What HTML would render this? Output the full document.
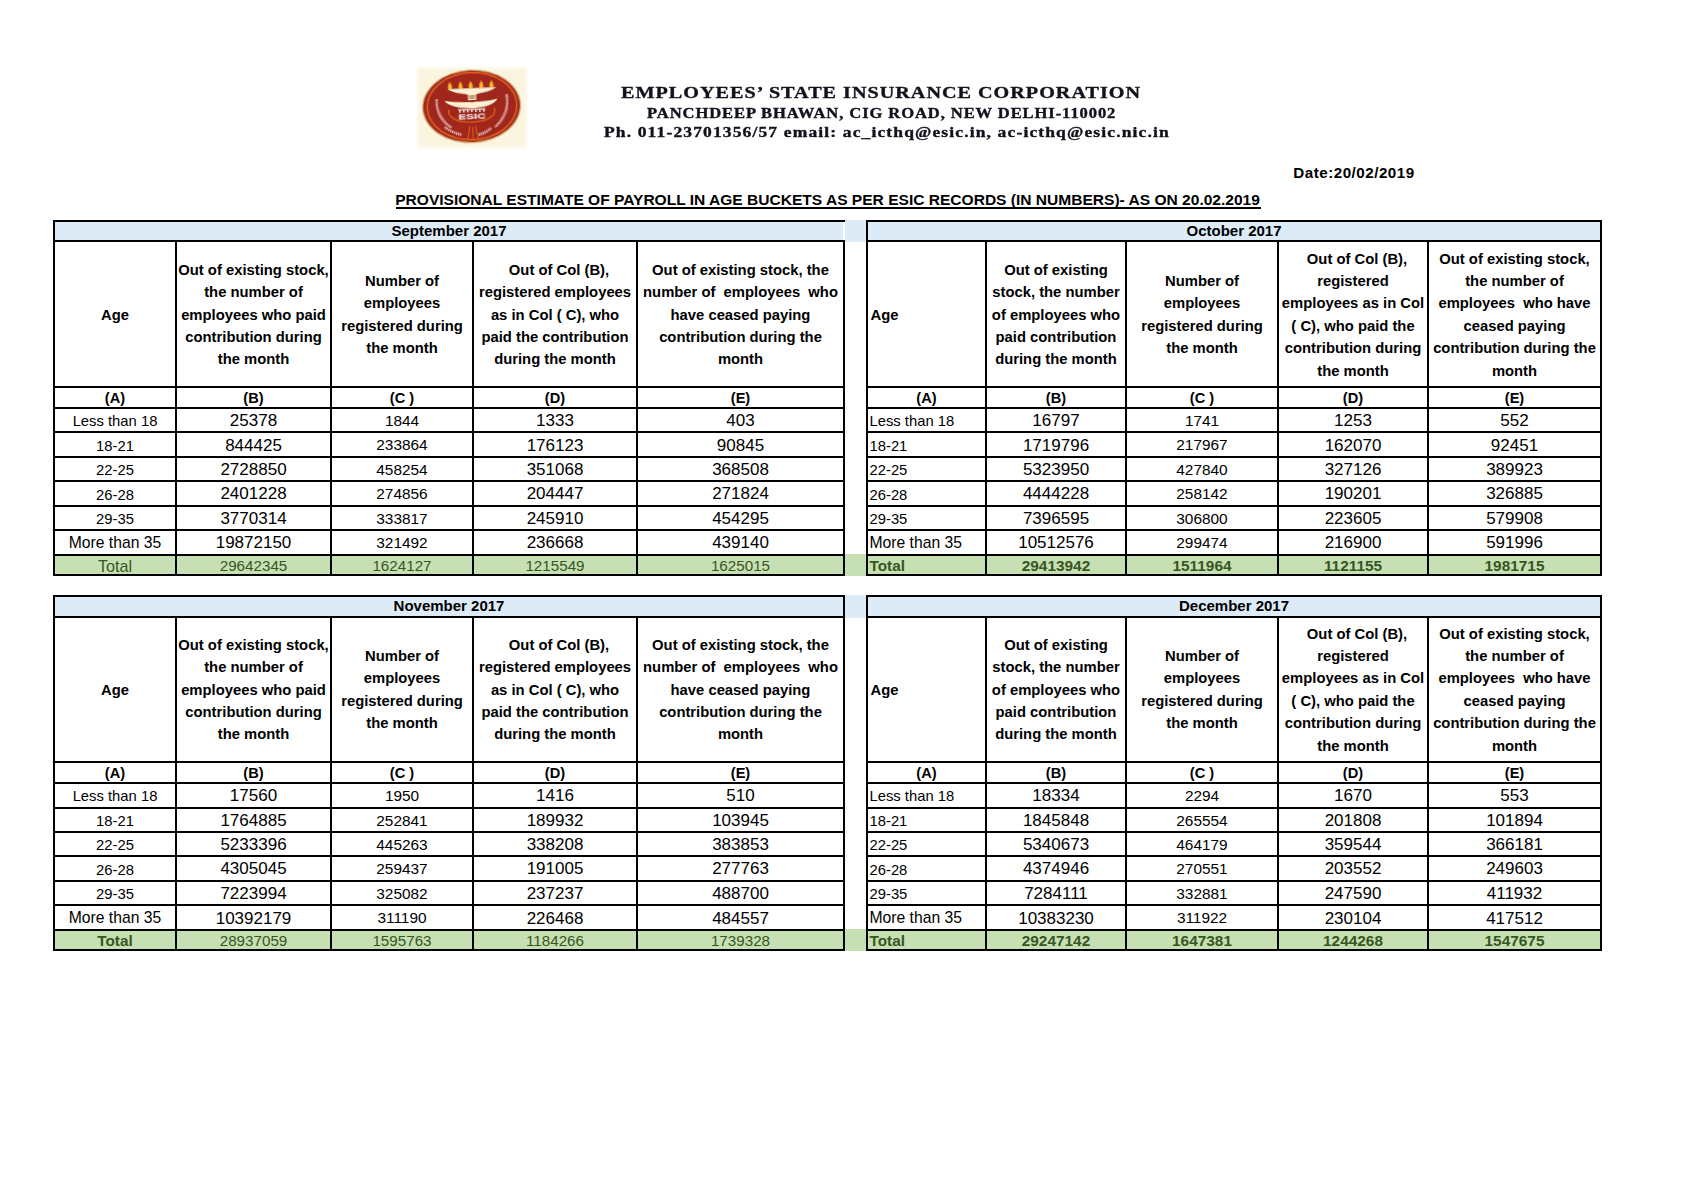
<!DOCTYPE html>
<html><head><meta charset="utf-8"><title>ESIC Payroll Estimate</title>
<style>
html,body{margin:0;padding:0;background:#fff}
#pg{position:relative;width:1684px;height:1191px;overflow:hidden;background:#fff}
#pg div{position:absolute}
.t{white-space:pre}
</style></head><body><div id="pg">
<svg style="position:absolute;left:410px;top:60px" width="125" height="95" viewBox="410 60 125 95">
<defs><filter id="bl" x="-5%" y="-5%" width="110%" height="110%"><feGaussianBlur stdDeviation="0.45"/></filter>
<filter id="bl2" x="-5%" y="-5%" width="110%" height="110%"><feGaussianBlur stdDeviation="1.2"/></filter></defs>
<rect x="417.5" y="67.5" width="109" height="80" fill="#fbf5df" filter="url(#bl2)"/>
<g filter="url(#bl)" transform="rotate(-2.5 472.5 106.2)">
<ellipse cx="471.6" cy="106.3" rx="49.6" ry="36.9" fill="#d6b483"/>
<ellipse cx="471.6" cy="106.3" rx="48.3" ry="35.8" fill="#a1261c"/>
<ellipse cx="472" cy="106.1" rx="44.8" ry="33.6" fill="none" stroke="#e2621f" stroke-width="1.4"/>
<!-- flames -->
<path d="M450.8 81 C453.2 83.3 453.3 86.5 452.7 88.2 L448.90000000000003 88.2 C448.3 86.5 448.40000000000003 83.3 450.8 81Z" fill="#ea8f1d"/>
<path d="M450.8 83 C452.0 84.5 452.1 86.5 451.8 88 L449.8 88 C449.5 86.5 449.6 84.5 450.8 83Z" fill="#f8c62c"/>
<path d="M461.4 81 C463.79999999999995 83.3 463.9 86.5 463.29999999999995 88.2 L459.5 88.2 C458.9 86.5 459.0 83.3 461.4 81Z" fill="#ea8f1d"/>
<path d="M461.4 83 C462.59999999999997 84.5 462.7 86.5 462.4 88 L460.4 88 C460.09999999999997 86.5 460.2 84.5 461.4 83Z" fill="#f8c62c"/>
<path d="M471.6 81 C474.0 83.3 474.1 86.5 473.5 88.2 L469.70000000000005 88.2 C469.1 86.5 469.20000000000005 83.3 471.6 81Z" fill="#ea8f1d"/>
<path d="M471.6 83 C472.8 84.5 472.90000000000003 86.5 472.6 88 L470.6 88 C470.3 86.5 470.40000000000003 84.5 471.6 83Z" fill="#f8c62c"/>
<path d="M482.2 81 C484.59999999999997 83.3 484.7 86.5 484.09999999999997 88.2 L480.3 88.2 C479.7 86.5 479.8 83.3 482.2 81Z" fill="#ea8f1d"/>
<path d="M482.2 83 C483.4 84.5 483.5 86.5 483.2 88 L481.2 88 C480.9 86.5 481.0 84.5 482.2 83Z" fill="#f8c62c"/>
<path d="M492.4 81 C494.79999999999995 83.3 494.9 86.5 494.29999999999995 88.2 L490.5 88.2 C489.9 86.5 490.0 83.3 492.4 81Z" fill="#ea8f1d"/>
<path d="M492.4 83 C493.59999999999997 84.5 493.7 86.5 493.4 88 L491.4 88 C491.09999999999997 86.5 491.2 84.5 492.4 83Z" fill="#f8c62c"/>
<!-- upper lamp bowl -->
<path d="M448.5 88.3 L497 88.3 C494 90.5 488 92.5 480 93.5 L476 94.6 L469 94.6 L465 93.5 C457 92.5 451 90.5 448.5 88.3Z" fill="#fbf1d2"/>
<!-- stem -->
<rect x="468.5" y="94" width="8" height="6" fill="#fbf1d2"/>
<rect x="469.5" y="95" width="6" height="4" fill="#c89a78"/>
<!-- lower bowl -->
<path d="M445 99.8 C452 101.5 462 102.2 472.5 102.2 C483 102.2 492 101.5 497.5 99.8 C495 104.5 488 107.6 472.5 108.2 C457 107.6 448 104.5 445 99.8Z" fill="#fbf1d2"/>
<!-- inner ring -->
<path d="M449 108.8 C447 114 452 121.8 472 122.2 C492 121.8 496 114 494 108.8" fill="none" stroke="#e2621f" stroke-width="1.2"/>
<!-- hindi + ESIC -->
<g fill="#f6e4e0">
<rect x="458" y="108.6" width="27" height="1.2"/>
<rect x="459" y="109.6" width="1.4" height="2.4"/><rect x="463" y="109.6" width="1.4" height="2.4"/><rect x="467" y="109.6" width="1.4" height="2.4"/><rect x="471" y="109.6" width="1.4" height="2.4"/><rect x="475" y="109.6" width="1.4" height="2.4"/><rect x="479" y="109.6" width="1.4" height="2.4"/><rect x="483" y="109.6" width="1.4" height="2.4"/>
</g>
<text x="458" y="118.6" font-family="Liberation Sans, sans-serif" font-weight="700" font-size="6.4" fill="#f6e4e0" textLength="27" lengthAdjust="spacingAndGlyphs">ESIC</text>
<!-- left arc text -->
<path d="M437 98 C436 110 441 120 451 127 M444 126 C449 130 455 133 460 134" fill="none" stroke="#e8c0b8" stroke-width="2.6" stroke-dasharray="1.3 0.8"/>
<!-- right arc text -->
<path d="M507 96 C509 110 503 121 494 128 M490 129 C486 132 482 134 477 135" fill="none" stroke="#e8c0b8" stroke-width="2.6" stroke-dasharray="1.3 0.8"/>
<!-- tower -->
<path d="M469 126 L466.5 139 M474.5 126 L477 139 M471.8 127 L471.8 139" stroke="#e2621f" stroke-width="1" fill="none"/>
</g>
</svg>

<div style="left:55px;top:222px;width:788px;height:18px;background:#DDEBF7"></div>
<div style="left:55px;top:556px;width:788px;height:18px;background:#C6E0B4"></div>
<div style="left:845px;top:220px;width:21px;height:22px;background:#DDEBF7"></div>
<div style="left:845px;top:554px;width:21px;height:22px;background:#C6E0B4"></div>
<div style="left:53px;top:220px;width:792px;height:2px;background:#000"></div>
<div style="left:53px;top:240px;width:792px;height:2px;background:#000"></div>
<div style="left:53px;top:386px;width:792px;height:2px;background:#000"></div>
<div style="left:53px;top:407px;width:792px;height:2px;background:#000"></div>
<div style="left:53px;top:431px;width:792px;height:2px;background:#000"></div>
<div style="left:53px;top:456px;width:792px;height:2px;background:#000"></div>
<div style="left:53px;top:480px;width:792px;height:2px;background:#000"></div>
<div style="left:53px;top:505px;width:792px;height:2px;background:#000"></div>
<div style="left:53px;top:529px;width:792px;height:2px;background:#000"></div>
<div style="left:53px;top:554px;width:792px;height:2px;background:#000"></div>
<div style="left:53px;top:574px;width:792px;height:2px;background:#000"></div>
<div style="left:53px;top:220px;width:2px;height:356px;background:#000"></div>
<div style="left:843px;top:240px;width:2px;height:336px;background:#000"></div>
<div style="left:175px;top:240px;width:2px;height:336px;background:#000"></div>
<div style="left:330px;top:240px;width:2px;height:336px;background:#000"></div>
<div style="left:472px;top:240px;width:2px;height:336px;background:#000"></div>
<div style="left:636px;top:240px;width:2px;height:336px;background:#000"></div>
<div class="t" style="left:53.00px;top:216.20px;width:792px;line-height:30px;font-size:15.0px;text-align:center;color:#000;font-family:'Liberation Sans', sans-serif;font-weight:700">September 2017</div>
<div class="t" style="left:55.00px;top:299.67px;width:120px;line-height:30px;font-size:14.8px;text-align:center;color:#000;font-family:'Liberation Sans', sans-serif;font-weight:700">Age</div>
<div class="t" style="left:177.00px;top:254.87px;width:153px;line-height:30px;font-size:14.8px;text-align:center;color:#000;font-family:'Liberation Sans', sans-serif;font-weight:700">Out of existing stock,</div>
<div class="t" style="left:177.00px;top:277.27px;width:153px;line-height:30px;font-size:14.8px;text-align:center;color:#000;font-family:'Liberation Sans', sans-serif;font-weight:700">the number of</div>
<div class="t" style="left:177.00px;top:299.67px;width:153px;line-height:30px;font-size:14.8px;text-align:center;color:#000;font-family:'Liberation Sans', sans-serif;font-weight:700">employees who paid</div>
<div class="t" style="left:177.00px;top:322.07px;width:153px;line-height:30px;font-size:14.8px;text-align:center;color:#000;font-family:'Liberation Sans', sans-serif;font-weight:700">contribution during</div>
<div class="t" style="left:177.00px;top:344.47px;width:153px;line-height:30px;font-size:14.8px;text-align:center;color:#000;font-family:'Liberation Sans', sans-serif;font-weight:700">the month</div>
<div class="t" style="left:332.00px;top:266.07px;width:140px;line-height:30px;font-size:14.8px;text-align:center;color:#000;font-family:'Liberation Sans', sans-serif;font-weight:700">Number of</div>
<div class="t" style="left:332.00px;top:288.47px;width:140px;line-height:30px;font-size:14.8px;text-align:center;color:#000;font-family:'Liberation Sans', sans-serif;font-weight:700">employees</div>
<div class="t" style="left:332.00px;top:310.87px;width:140px;line-height:30px;font-size:14.8px;text-align:center;color:#000;font-family:'Liberation Sans', sans-serif;font-weight:700">registered during</div>
<div class="t" style="left:332.00px;top:333.27px;width:140px;line-height:30px;font-size:14.8px;text-align:center;color:#000;font-family:'Liberation Sans', sans-serif;font-weight:700">the month</div>
<div class="t" style="left:478.00px;top:254.87px;width:162px;line-height:30px;font-size:14.8px;text-align:center;color:#000;font-family:'Liberation Sans', sans-serif;font-weight:700">Out of Col (B),</div>
<div class="t" style="left:474.00px;top:277.27px;width:162px;line-height:30px;font-size:14.8px;text-align:center;color:#000;font-family:'Liberation Sans', sans-serif;font-weight:700">registered employees</div>
<div class="t" style="left:474.00px;top:299.67px;width:162px;line-height:30px;font-size:14.8px;text-align:center;color:#000;font-family:'Liberation Sans', sans-serif;font-weight:700">as in Col ( C), who</div>
<div class="t" style="left:474.00px;top:322.07px;width:162px;line-height:30px;font-size:14.8px;text-align:center;color:#000;font-family:'Liberation Sans', sans-serif;font-weight:700">paid the contribution</div>
<div class="t" style="left:474.00px;top:344.47px;width:162px;line-height:30px;font-size:14.8px;text-align:center;color:#000;font-family:'Liberation Sans', sans-serif;font-weight:700">during the month</div>
<div class="t" style="left:638.00px;top:254.87px;width:205px;line-height:30px;font-size:14.8px;text-align:center;color:#000;font-family:'Liberation Sans', sans-serif;font-weight:700">Out of existing stock, the</div>
<div class="t" style="left:638.00px;top:277.27px;width:205px;line-height:30px;font-size:14.8px;text-align:center;color:#000;font-family:'Liberation Sans', sans-serif;font-weight:700">number of  employees  who</div>
<div class="t" style="left:638.00px;top:299.67px;width:205px;line-height:30px;font-size:14.8px;text-align:center;color:#000;font-family:'Liberation Sans', sans-serif;font-weight:700">have ceased paying</div>
<div class="t" style="left:638.00px;top:322.07px;width:205px;line-height:30px;font-size:14.8px;text-align:center;color:#000;font-family:'Liberation Sans', sans-serif;font-weight:700">contribution during the</div>
<div class="t" style="left:638.00px;top:344.47px;width:205px;line-height:30px;font-size:14.8px;text-align:center;color:#000;font-family:'Liberation Sans', sans-serif;font-weight:700">month</div>
<div class="t" style="left:55.00px;top:382.64px;width:120px;line-height:30px;font-size:14.6px;text-align:center;color:#000;font-family:'Liberation Sans', sans-serif;font-weight:700">(A)</div>
<div class="t" style="left:177.00px;top:382.64px;width:153px;line-height:30px;font-size:14.6px;text-align:center;color:#000;font-family:'Liberation Sans', sans-serif;font-weight:700">(B)</div>
<div class="t" style="left:332.00px;top:382.64px;width:140px;line-height:30px;font-size:14.6px;text-align:center;color:#000;font-family:'Liberation Sans', sans-serif;font-weight:700">(C )</div>
<div class="t" style="left:474.00px;top:382.64px;width:162px;line-height:30px;font-size:14.6px;text-align:center;color:#000;font-family:'Liberation Sans', sans-serif;font-weight:700">(D)</div>
<div class="t" style="left:638.00px;top:382.64px;width:205px;line-height:30px;font-size:14.6px;text-align:center;color:#000;font-family:'Liberation Sans', sans-serif;font-weight:700">(E)</div>
<div class="t" style="left:55.00px;top:406.12px;width:120px;line-height:30px;font-size:14.8px;text-align:center;color:#000;font-family:'Liberation Sans', sans-serif">Less than 18</div>
<div class="t" style="left:177.00px;top:406.06px;width:153px;line-height:30px;font-size:17px;text-align:center;color:#000;font-family:'Liberation Sans', sans-serif">25378</div>
<div class="t" style="left:332.00px;top:405.81px;width:140px;line-height:30px;font-size:15.4px;text-align:center;color:#000;font-family:'Liberation Sans', sans-serif">1844</div>
<div class="t" style="left:474.00px;top:406.06px;width:162px;line-height:30px;font-size:17px;text-align:center;color:#000;font-family:'Liberation Sans', sans-serif">1333</div>
<div class="t" style="left:638.00px;top:406.06px;width:205px;line-height:30px;font-size:17px;text-align:center;color:#000;font-family:'Liberation Sans', sans-serif">403</div>
<div class="t" style="left:55.00px;top:430.57px;width:120px;line-height:30px;font-size:14.8px;text-align:center;color:#000;font-family:'Liberation Sans', sans-serif">18-21</div>
<div class="t" style="left:177.00px;top:430.51px;width:153px;line-height:30px;font-size:17px;text-align:center;color:#000;font-family:'Liberation Sans', sans-serif">844425</div>
<div class="t" style="left:332.00px;top:430.26px;width:140px;line-height:30px;font-size:15.4px;text-align:center;color:#000;font-family:'Liberation Sans', sans-serif">233864</div>
<div class="t" style="left:474.00px;top:430.51px;width:162px;line-height:30px;font-size:17px;text-align:center;color:#000;font-family:'Liberation Sans', sans-serif">176123</div>
<div class="t" style="left:638.00px;top:430.51px;width:205px;line-height:30px;font-size:17px;text-align:center;color:#000;font-family:'Liberation Sans', sans-serif">90845</div>
<div class="t" style="left:55.00px;top:455.02px;width:120px;line-height:30px;font-size:14.8px;text-align:center;color:#000;font-family:'Liberation Sans', sans-serif">22-25</div>
<div class="t" style="left:177.00px;top:454.96px;width:153px;line-height:30px;font-size:17px;text-align:center;color:#000;font-family:'Liberation Sans', sans-serif">2728850</div>
<div class="t" style="left:332.00px;top:454.71px;width:140px;line-height:30px;font-size:15.4px;text-align:center;color:#000;font-family:'Liberation Sans', sans-serif">458254</div>
<div class="t" style="left:474.00px;top:454.96px;width:162px;line-height:30px;font-size:17px;text-align:center;color:#000;font-family:'Liberation Sans', sans-serif">351068</div>
<div class="t" style="left:638.00px;top:454.96px;width:205px;line-height:30px;font-size:17px;text-align:center;color:#000;font-family:'Liberation Sans', sans-serif">368508</div>
<div class="t" style="left:55.00px;top:479.52px;width:120px;line-height:30px;font-size:14.8px;text-align:center;color:#000;font-family:'Liberation Sans', sans-serif">26-28</div>
<div class="t" style="left:177.00px;top:479.46px;width:153px;line-height:30px;font-size:17px;text-align:center;color:#000;font-family:'Liberation Sans', sans-serif">2401228</div>
<div class="t" style="left:332.00px;top:479.21px;width:140px;line-height:30px;font-size:15.4px;text-align:center;color:#000;font-family:'Liberation Sans', sans-serif">274856</div>
<div class="t" style="left:474.00px;top:479.46px;width:162px;line-height:30px;font-size:17px;text-align:center;color:#000;font-family:'Liberation Sans', sans-serif">204447</div>
<div class="t" style="left:638.00px;top:479.46px;width:205px;line-height:30px;font-size:17px;text-align:center;color:#000;font-family:'Liberation Sans', sans-serif">271824</div>
<div class="t" style="left:55.00px;top:503.97px;width:120px;line-height:30px;font-size:14.8px;text-align:center;color:#000;font-family:'Liberation Sans', sans-serif">29-35</div>
<div class="t" style="left:177.00px;top:503.91px;width:153px;line-height:30px;font-size:17px;text-align:center;color:#000;font-family:'Liberation Sans', sans-serif">3770314</div>
<div class="t" style="left:332.00px;top:503.66px;width:140px;line-height:30px;font-size:15.4px;text-align:center;color:#000;font-family:'Liberation Sans', sans-serif">333817</div>
<div class="t" style="left:474.00px;top:503.91px;width:162px;line-height:30px;font-size:17px;text-align:center;color:#000;font-family:'Liberation Sans', sans-serif">245910</div>
<div class="t" style="left:638.00px;top:503.91px;width:205px;line-height:30px;font-size:17px;text-align:center;color:#000;font-family:'Liberation Sans', sans-serif">454295</div>
<div class="t" style="left:55.00px;top:528.11px;width:120px;line-height:30px;font-size:15.7px;text-align:center;color:#000;font-family:'Liberation Sans', sans-serif">More than 35</div>
<div class="t" style="left:177.00px;top:528.36px;width:153px;line-height:30px;font-size:17px;text-align:center;color:#000;font-family:'Liberation Sans', sans-serif">19872150</div>
<div class="t" style="left:332.00px;top:528.11px;width:140px;line-height:30px;font-size:15.4px;text-align:center;color:#000;font-family:'Liberation Sans', sans-serif">321492</div>
<div class="t" style="left:474.00px;top:528.36px;width:162px;line-height:30px;font-size:17px;text-align:center;color:#000;font-family:'Liberation Sans', sans-serif">236668</div>
<div class="t" style="left:638.00px;top:528.36px;width:205px;line-height:30px;font-size:17px;text-align:center;color:#000;font-family:'Liberation Sans', sans-serif">439140</div>
<div class="t" style="left:55.00px;top:550.52px;width:120px;line-height:30px;font-size:16.1px;text-align:center;color:#375623;font-family:'Liberation Sans', sans-serif">Total</div>
<div class="t" style="left:177.00px;top:550.83px;width:153px;line-height:30px;font-size:15.2px;text-align:center;color:#375623;font-family:'Liberation Sans', sans-serif">29642345</div>
<div class="t" style="left:332.00px;top:550.83px;width:140px;line-height:30px;font-size:15.2px;text-align:center;color:#375623;font-family:'Liberation Sans', sans-serif">1624127</div>
<div class="t" style="left:474.00px;top:550.83px;width:162px;line-height:30px;font-size:15.2px;text-align:center;color:#375623;font-family:'Liberation Sans', sans-serif">1215549</div>
<div class="t" style="left:638.00px;top:550.83px;width:205px;line-height:30px;font-size:15.2px;text-align:center;color:#375623;font-family:'Liberation Sans', sans-serif">1625015</div>
<div style="left:868px;top:222px;width:732px;height:18px;background:#DDEBF7"></div>
<div style="left:868px;top:556px;width:732px;height:18px;background:#C6E0B4"></div>
<div style="left:866px;top:220px;width:736px;height:2px;background:#000"></div>
<div style="left:866px;top:240px;width:736px;height:2px;background:#000"></div>
<div style="left:866px;top:386px;width:736px;height:2px;background:#000"></div>
<div style="left:866px;top:407px;width:736px;height:2px;background:#000"></div>
<div style="left:866px;top:431px;width:736px;height:2px;background:#000"></div>
<div style="left:866px;top:456px;width:736px;height:2px;background:#000"></div>
<div style="left:866px;top:480px;width:736px;height:2px;background:#000"></div>
<div style="left:866px;top:505px;width:736px;height:2px;background:#000"></div>
<div style="left:866px;top:529px;width:736px;height:2px;background:#000"></div>
<div style="left:866px;top:554px;width:736px;height:2px;background:#000"></div>
<div style="left:866px;top:574px;width:736px;height:2px;background:#000"></div>
<div style="left:866px;top:220px;width:2px;height:356px;background:#000"></div>
<div style="left:1600px;top:220px;width:2px;height:356px;background:#000"></div>
<div style="left:985px;top:240px;width:2px;height:336px;background:#000"></div>
<div style="left:1125px;top:240px;width:2px;height:336px;background:#000"></div>
<div style="left:1277px;top:240px;width:2px;height:336px;background:#000"></div>
<div style="left:1427px;top:240px;width:2px;height:336px;background:#000"></div>
<div class="t" style="left:866.00px;top:216.20px;width:736px;line-height:30px;font-size:15.0px;text-align:center;color:#000;font-family:'Liberation Sans', sans-serif;font-weight:700">October 2017</div>
<div class="t" style="left:870.50px;top:299.67px;width:117px;line-height:30px;font-size:14.8px;text-align:left;color:#000;font-family:'Liberation Sans', sans-serif;font-weight:700">Age</div>
<div class="t" style="left:987.00px;top:254.87px;width:138px;line-height:30px;font-size:14.8px;text-align:center;color:#000;font-family:'Liberation Sans', sans-serif;font-weight:700">Out of existing</div>
<div class="t" style="left:987.00px;top:277.27px;width:138px;line-height:30px;font-size:14.8px;text-align:center;color:#000;font-family:'Liberation Sans', sans-serif;font-weight:700">stock, the number</div>
<div class="t" style="left:987.00px;top:299.67px;width:138px;line-height:30px;font-size:14.8px;text-align:center;color:#000;font-family:'Liberation Sans', sans-serif;font-weight:700">of employees who</div>
<div class="t" style="left:987.00px;top:322.07px;width:138px;line-height:30px;font-size:14.8px;text-align:center;color:#000;font-family:'Liberation Sans', sans-serif;font-weight:700">paid contribution</div>
<div class="t" style="left:987.00px;top:344.47px;width:138px;line-height:30px;font-size:14.8px;text-align:center;color:#000;font-family:'Liberation Sans', sans-serif;font-weight:700">during the month</div>
<div class="t" style="left:1127.00px;top:266.07px;width:150px;line-height:30px;font-size:14.8px;text-align:center;color:#000;font-family:'Liberation Sans', sans-serif;font-weight:700">Number of</div>
<div class="t" style="left:1127.00px;top:288.47px;width:150px;line-height:30px;font-size:14.8px;text-align:center;color:#000;font-family:'Liberation Sans', sans-serif;font-weight:700">employees</div>
<div class="t" style="left:1127.00px;top:310.87px;width:150px;line-height:30px;font-size:14.8px;text-align:center;color:#000;font-family:'Liberation Sans', sans-serif;font-weight:700">registered during</div>
<div class="t" style="left:1127.00px;top:333.27px;width:150px;line-height:30px;font-size:14.8px;text-align:center;color:#000;font-family:'Liberation Sans', sans-serif;font-weight:700">the month</div>
<div class="t" style="left:1283.00px;top:243.67px;width:148px;line-height:30px;font-size:14.8px;text-align:center;color:#000;font-family:'Liberation Sans', sans-serif;font-weight:700">Out of Col (B),</div>
<div class="t" style="left:1279.00px;top:266.07px;width:148px;line-height:30px;font-size:14.8px;text-align:center;color:#000;font-family:'Liberation Sans', sans-serif;font-weight:700">registered</div>
<div class="t" style="left:1279.00px;top:288.47px;width:148px;line-height:30px;font-size:14.8px;text-align:center;color:#000;font-family:'Liberation Sans', sans-serif;font-weight:700">employees as in Col</div>
<div class="t" style="left:1279.00px;top:310.87px;width:148px;line-height:30px;font-size:14.8px;text-align:center;color:#000;font-family:'Liberation Sans', sans-serif;font-weight:700">( C), who paid the</div>
<div class="t" style="left:1279.00px;top:333.27px;width:148px;line-height:30px;font-size:14.8px;text-align:center;color:#000;font-family:'Liberation Sans', sans-serif;font-weight:700">contribution during</div>
<div class="t" style="left:1279.00px;top:355.67px;width:148px;line-height:30px;font-size:14.8px;text-align:center;color:#000;font-family:'Liberation Sans', sans-serif;font-weight:700">the month</div>
<div class="t" style="left:1429.00px;top:243.67px;width:171px;line-height:30px;font-size:14.8px;text-align:center;color:#000;font-family:'Liberation Sans', sans-serif;font-weight:700">Out of existing stock,</div>
<div class="t" style="left:1429.00px;top:266.07px;width:171px;line-height:30px;font-size:14.8px;text-align:center;color:#000;font-family:'Liberation Sans', sans-serif;font-weight:700">the number of</div>
<div class="t" style="left:1429.00px;top:288.47px;width:171px;line-height:30px;font-size:14.8px;text-align:center;color:#000;font-family:'Liberation Sans', sans-serif;font-weight:700">employees  who have</div>
<div class="t" style="left:1429.00px;top:310.87px;width:171px;line-height:30px;font-size:14.8px;text-align:center;color:#000;font-family:'Liberation Sans', sans-serif;font-weight:700">ceased paying</div>
<div class="t" style="left:1429.00px;top:333.27px;width:171px;line-height:30px;font-size:14.8px;text-align:center;color:#000;font-family:'Liberation Sans', sans-serif;font-weight:700">contribution during the</div>
<div class="t" style="left:1429.00px;top:355.67px;width:171px;line-height:30px;font-size:14.8px;text-align:center;color:#000;font-family:'Liberation Sans', sans-serif;font-weight:700">month</div>
<div class="t" style="left:868.00px;top:382.64px;width:117px;line-height:30px;font-size:14.6px;text-align:center;color:#000;font-family:'Liberation Sans', sans-serif;font-weight:700">(A)</div>
<div class="t" style="left:987.00px;top:382.64px;width:138px;line-height:30px;font-size:14.6px;text-align:center;color:#000;font-family:'Liberation Sans', sans-serif;font-weight:700">(B)</div>
<div class="t" style="left:1127.00px;top:382.64px;width:150px;line-height:30px;font-size:14.6px;text-align:center;color:#000;font-family:'Liberation Sans', sans-serif;font-weight:700">(C )</div>
<div class="t" style="left:1279.00px;top:382.64px;width:148px;line-height:30px;font-size:14.6px;text-align:center;color:#000;font-family:'Liberation Sans', sans-serif;font-weight:700">(D)</div>
<div class="t" style="left:1429.00px;top:382.64px;width:171px;line-height:30px;font-size:14.6px;text-align:center;color:#000;font-family:'Liberation Sans', sans-serif;font-weight:700">(E)</div>
<div class="t" style="left:869.50px;top:406.12px;width:117px;line-height:30px;font-size:14.8px;text-align:left;color:#000;font-family:'Liberation Sans', sans-serif">Less than 18</div>
<div class="t" style="left:987.00px;top:406.06px;width:138px;line-height:30px;font-size:17px;text-align:center;color:#000;font-family:'Liberation Sans', sans-serif">16797</div>
<div class="t" style="left:1127.00px;top:405.81px;width:150px;line-height:30px;font-size:15.4px;text-align:center;color:#000;font-family:'Liberation Sans', sans-serif">1741</div>
<div class="t" style="left:1279.00px;top:406.06px;width:148px;line-height:30px;font-size:17px;text-align:center;color:#000;font-family:'Liberation Sans', sans-serif">1253</div>
<div class="t" style="left:1429.00px;top:406.06px;width:171px;line-height:30px;font-size:17px;text-align:center;color:#000;font-family:'Liberation Sans', sans-serif">552</div>
<div class="t" style="left:869.50px;top:430.57px;width:117px;line-height:30px;font-size:14.8px;text-align:left;color:#000;font-family:'Liberation Sans', sans-serif">18-21</div>
<div class="t" style="left:987.00px;top:430.51px;width:138px;line-height:30px;font-size:17px;text-align:center;color:#000;font-family:'Liberation Sans', sans-serif">1719796</div>
<div class="t" style="left:1127.00px;top:430.26px;width:150px;line-height:30px;font-size:15.4px;text-align:center;color:#000;font-family:'Liberation Sans', sans-serif">217967</div>
<div class="t" style="left:1279.00px;top:430.51px;width:148px;line-height:30px;font-size:17px;text-align:center;color:#000;font-family:'Liberation Sans', sans-serif">162070</div>
<div class="t" style="left:1429.00px;top:430.51px;width:171px;line-height:30px;font-size:17px;text-align:center;color:#000;font-family:'Liberation Sans', sans-serif">92451</div>
<div class="t" style="left:869.50px;top:455.02px;width:117px;line-height:30px;font-size:14.8px;text-align:left;color:#000;font-family:'Liberation Sans', sans-serif">22-25</div>
<div class="t" style="left:987.00px;top:454.96px;width:138px;line-height:30px;font-size:17px;text-align:center;color:#000;font-family:'Liberation Sans', sans-serif">5323950</div>
<div class="t" style="left:1127.00px;top:454.71px;width:150px;line-height:30px;font-size:15.4px;text-align:center;color:#000;font-family:'Liberation Sans', sans-serif">427840</div>
<div class="t" style="left:1279.00px;top:454.96px;width:148px;line-height:30px;font-size:17px;text-align:center;color:#000;font-family:'Liberation Sans', sans-serif">327126</div>
<div class="t" style="left:1429.00px;top:454.96px;width:171px;line-height:30px;font-size:17px;text-align:center;color:#000;font-family:'Liberation Sans', sans-serif">389923</div>
<div class="t" style="left:869.50px;top:479.52px;width:117px;line-height:30px;font-size:14.8px;text-align:left;color:#000;font-family:'Liberation Sans', sans-serif">26-28</div>
<div class="t" style="left:987.00px;top:479.46px;width:138px;line-height:30px;font-size:17px;text-align:center;color:#000;font-family:'Liberation Sans', sans-serif">4444228</div>
<div class="t" style="left:1127.00px;top:479.21px;width:150px;line-height:30px;font-size:15.4px;text-align:center;color:#000;font-family:'Liberation Sans', sans-serif">258142</div>
<div class="t" style="left:1279.00px;top:479.46px;width:148px;line-height:30px;font-size:17px;text-align:center;color:#000;font-family:'Liberation Sans', sans-serif">190201</div>
<div class="t" style="left:1429.00px;top:479.46px;width:171px;line-height:30px;font-size:17px;text-align:center;color:#000;font-family:'Liberation Sans', sans-serif">326885</div>
<div class="t" style="left:869.50px;top:503.97px;width:117px;line-height:30px;font-size:14.8px;text-align:left;color:#000;font-family:'Liberation Sans', sans-serif">29-35</div>
<div class="t" style="left:987.00px;top:503.91px;width:138px;line-height:30px;font-size:17px;text-align:center;color:#000;font-family:'Liberation Sans', sans-serif">7396595</div>
<div class="t" style="left:1127.00px;top:503.66px;width:150px;line-height:30px;font-size:15.4px;text-align:center;color:#000;font-family:'Liberation Sans', sans-serif">306800</div>
<div class="t" style="left:1279.00px;top:503.91px;width:148px;line-height:30px;font-size:17px;text-align:center;color:#000;font-family:'Liberation Sans', sans-serif">223605</div>
<div class="t" style="left:1429.00px;top:503.91px;width:171px;line-height:30px;font-size:17px;text-align:center;color:#000;font-family:'Liberation Sans', sans-serif">579908</div>
<div class="t" style="left:869.50px;top:528.11px;width:117px;line-height:30px;font-size:15.7px;text-align:left;color:#000;font-family:'Liberation Sans', sans-serif">More than 35</div>
<div class="t" style="left:987.00px;top:528.36px;width:138px;line-height:30px;font-size:17px;text-align:center;color:#000;font-family:'Liberation Sans', sans-serif">10512576</div>
<div class="t" style="left:1127.00px;top:528.11px;width:150px;line-height:30px;font-size:15.4px;text-align:center;color:#000;font-family:'Liberation Sans', sans-serif">299474</div>
<div class="t" style="left:1279.00px;top:528.36px;width:148px;line-height:30px;font-size:17px;text-align:center;color:#000;font-family:'Liberation Sans', sans-serif">216900</div>
<div class="t" style="left:1429.00px;top:528.36px;width:171px;line-height:30px;font-size:17px;text-align:center;color:#000;font-family:'Liberation Sans', sans-serif">591996</div>
<div class="t" style="left:869.50px;top:550.80px;width:117px;line-height:30px;font-size:15.3px;text-align:left;color:#375623;font-family:'Liberation Sans', sans-serif;font-weight:700">Total</div>
<div class="t" style="left:987.00px;top:550.76px;width:138px;line-height:30px;font-size:15.4px;text-align:center;color:#375623;font-family:'Liberation Sans', sans-serif;font-weight:700">29413942</div>
<div class="t" style="left:1127.00px;top:550.76px;width:150px;line-height:30px;font-size:15.4px;text-align:center;color:#375623;font-family:'Liberation Sans', sans-serif;font-weight:700">1511964</div>
<div class="t" style="left:1279.00px;top:550.76px;width:148px;line-height:30px;font-size:15.4px;text-align:center;color:#375623;font-family:'Liberation Sans', sans-serif;font-weight:700">1121155</div>
<div class="t" style="left:1429.00px;top:550.76px;width:171px;line-height:30px;font-size:15.4px;text-align:center;color:#375623;font-family:'Liberation Sans', sans-serif;font-weight:700">1981715</div>
<div style="left:55px;top:597px;width:788px;height:19px;background:#DDEBF7"></div>
<div style="left:55px;top:931px;width:788px;height:18px;background:#C6E0B4"></div>
<div style="left:845px;top:595px;width:21px;height:23px;background:#DDEBF7"></div>
<div style="left:845px;top:929px;width:21px;height:22px;background:#C6E0B4"></div>
<div style="left:53px;top:595px;width:792px;height:2px;background:#000"></div>
<div style="left:53px;top:616px;width:792px;height:2px;background:#000"></div>
<div style="left:53px;top:761px;width:792px;height:2px;background:#000"></div>
<div style="left:53px;top:782px;width:792px;height:2px;background:#000"></div>
<div style="left:53px;top:807px;width:792px;height:2px;background:#000"></div>
<div style="left:53px;top:831px;width:792px;height:2px;background:#000"></div>
<div style="left:53px;top:855px;width:792px;height:2px;background:#000"></div>
<div style="left:53px;top:880px;width:792px;height:2px;background:#000"></div>
<div style="left:53px;top:904px;width:792px;height:2px;background:#000"></div>
<div style="left:53px;top:929px;width:792px;height:2px;background:#000"></div>
<div style="left:53px;top:949px;width:792px;height:2px;background:#000"></div>
<div style="left:53px;top:595px;width:2px;height:356px;background:#000"></div>
<div style="left:843px;top:595px;width:2px;height:356px;background:#000"></div>
<div style="left:175px;top:616px;width:2px;height:335px;background:#000"></div>
<div style="left:330px;top:616px;width:2px;height:335px;background:#000"></div>
<div style="left:472px;top:616px;width:2px;height:335px;background:#000"></div>
<div style="left:636px;top:616px;width:2px;height:335px;background:#000"></div>
<div class="t" style="left:53.00px;top:591.20px;width:792px;line-height:30px;font-size:15.0px;text-align:center;color:#000;font-family:'Liberation Sans', sans-serif;font-weight:700">November 2017</div>
<div class="t" style="left:55.00px;top:674.67px;width:120px;line-height:30px;font-size:14.8px;text-align:center;color:#000;font-family:'Liberation Sans', sans-serif;font-weight:700">Age</div>
<div class="t" style="left:177.00px;top:629.87px;width:153px;line-height:30px;font-size:14.8px;text-align:center;color:#000;font-family:'Liberation Sans', sans-serif;font-weight:700">Out of existing stock,</div>
<div class="t" style="left:177.00px;top:652.27px;width:153px;line-height:30px;font-size:14.8px;text-align:center;color:#000;font-family:'Liberation Sans', sans-serif;font-weight:700">the number of</div>
<div class="t" style="left:177.00px;top:674.67px;width:153px;line-height:30px;font-size:14.8px;text-align:center;color:#000;font-family:'Liberation Sans', sans-serif;font-weight:700">employees who paid</div>
<div class="t" style="left:177.00px;top:697.07px;width:153px;line-height:30px;font-size:14.8px;text-align:center;color:#000;font-family:'Liberation Sans', sans-serif;font-weight:700">contribution during</div>
<div class="t" style="left:177.00px;top:719.47px;width:153px;line-height:30px;font-size:14.8px;text-align:center;color:#000;font-family:'Liberation Sans', sans-serif;font-weight:700">the month</div>
<div class="t" style="left:332.00px;top:641.07px;width:140px;line-height:30px;font-size:14.8px;text-align:center;color:#000;font-family:'Liberation Sans', sans-serif;font-weight:700">Number of</div>
<div class="t" style="left:332.00px;top:663.47px;width:140px;line-height:30px;font-size:14.8px;text-align:center;color:#000;font-family:'Liberation Sans', sans-serif;font-weight:700">employees</div>
<div class="t" style="left:332.00px;top:685.87px;width:140px;line-height:30px;font-size:14.8px;text-align:center;color:#000;font-family:'Liberation Sans', sans-serif;font-weight:700">registered during</div>
<div class="t" style="left:332.00px;top:708.27px;width:140px;line-height:30px;font-size:14.8px;text-align:center;color:#000;font-family:'Liberation Sans', sans-serif;font-weight:700">the month</div>
<div class="t" style="left:478.00px;top:629.87px;width:162px;line-height:30px;font-size:14.8px;text-align:center;color:#000;font-family:'Liberation Sans', sans-serif;font-weight:700">Out of Col (B),</div>
<div class="t" style="left:474.00px;top:652.27px;width:162px;line-height:30px;font-size:14.8px;text-align:center;color:#000;font-family:'Liberation Sans', sans-serif;font-weight:700">registered employees</div>
<div class="t" style="left:474.00px;top:674.67px;width:162px;line-height:30px;font-size:14.8px;text-align:center;color:#000;font-family:'Liberation Sans', sans-serif;font-weight:700">as in Col ( C), who</div>
<div class="t" style="left:474.00px;top:697.07px;width:162px;line-height:30px;font-size:14.8px;text-align:center;color:#000;font-family:'Liberation Sans', sans-serif;font-weight:700">paid the contribution</div>
<div class="t" style="left:474.00px;top:719.47px;width:162px;line-height:30px;font-size:14.8px;text-align:center;color:#000;font-family:'Liberation Sans', sans-serif;font-weight:700">during the month</div>
<div class="t" style="left:638.00px;top:629.87px;width:205px;line-height:30px;font-size:14.8px;text-align:center;color:#000;font-family:'Liberation Sans', sans-serif;font-weight:700">Out of existing stock, the</div>
<div class="t" style="left:638.00px;top:652.27px;width:205px;line-height:30px;font-size:14.8px;text-align:center;color:#000;font-family:'Liberation Sans', sans-serif;font-weight:700">number of  employees  who</div>
<div class="t" style="left:638.00px;top:674.67px;width:205px;line-height:30px;font-size:14.8px;text-align:center;color:#000;font-family:'Liberation Sans', sans-serif;font-weight:700">have ceased paying</div>
<div class="t" style="left:638.00px;top:697.07px;width:205px;line-height:30px;font-size:14.8px;text-align:center;color:#000;font-family:'Liberation Sans', sans-serif;font-weight:700">contribution during the</div>
<div class="t" style="left:638.00px;top:719.47px;width:205px;line-height:30px;font-size:14.8px;text-align:center;color:#000;font-family:'Liberation Sans', sans-serif;font-weight:700">month</div>
<div class="t" style="left:55.00px;top:757.64px;width:120px;line-height:30px;font-size:14.6px;text-align:center;color:#000;font-family:'Liberation Sans', sans-serif;font-weight:700">(A)</div>
<div class="t" style="left:177.00px;top:757.64px;width:153px;line-height:30px;font-size:14.6px;text-align:center;color:#000;font-family:'Liberation Sans', sans-serif;font-weight:700">(B)</div>
<div class="t" style="left:332.00px;top:757.64px;width:140px;line-height:30px;font-size:14.6px;text-align:center;color:#000;font-family:'Liberation Sans', sans-serif;font-weight:700">(C )</div>
<div class="t" style="left:474.00px;top:757.64px;width:162px;line-height:30px;font-size:14.6px;text-align:center;color:#000;font-family:'Liberation Sans', sans-serif;font-weight:700">(D)</div>
<div class="t" style="left:638.00px;top:757.64px;width:205px;line-height:30px;font-size:14.6px;text-align:center;color:#000;font-family:'Liberation Sans', sans-serif;font-weight:700">(E)</div>
<div class="t" style="left:55.00px;top:781.42px;width:120px;line-height:30px;font-size:14.8px;text-align:center;color:#000;font-family:'Liberation Sans', sans-serif">Less than 18</div>
<div class="t" style="left:177.00px;top:781.36px;width:153px;line-height:30px;font-size:17px;text-align:center;color:#000;font-family:'Liberation Sans', sans-serif">17560</div>
<div class="t" style="left:332.00px;top:781.11px;width:140px;line-height:30px;font-size:15.4px;text-align:center;color:#000;font-family:'Liberation Sans', sans-serif">1950</div>
<div class="t" style="left:474.00px;top:781.36px;width:162px;line-height:30px;font-size:17px;text-align:center;color:#000;font-family:'Liberation Sans', sans-serif">1416</div>
<div class="t" style="left:638.00px;top:781.36px;width:205px;line-height:30px;font-size:17px;text-align:center;color:#000;font-family:'Liberation Sans', sans-serif">510</div>
<div class="t" style="left:55.00px;top:806.02px;width:120px;line-height:30px;font-size:14.8px;text-align:center;color:#000;font-family:'Liberation Sans', sans-serif">18-21</div>
<div class="t" style="left:177.00px;top:805.96px;width:153px;line-height:30px;font-size:17px;text-align:center;color:#000;font-family:'Liberation Sans', sans-serif">1764885</div>
<div class="t" style="left:332.00px;top:805.71px;width:140px;line-height:30px;font-size:15.4px;text-align:center;color:#000;font-family:'Liberation Sans', sans-serif">252841</div>
<div class="t" style="left:474.00px;top:805.96px;width:162px;line-height:30px;font-size:17px;text-align:center;color:#000;font-family:'Liberation Sans', sans-serif">189932</div>
<div class="t" style="left:638.00px;top:805.96px;width:205px;line-height:30px;font-size:17px;text-align:center;color:#000;font-family:'Liberation Sans', sans-serif">103945</div>
<div class="t" style="left:55.00px;top:830.12px;width:120px;line-height:30px;font-size:14.8px;text-align:center;color:#000;font-family:'Liberation Sans', sans-serif">22-25</div>
<div class="t" style="left:177.00px;top:830.06px;width:153px;line-height:30px;font-size:17px;text-align:center;color:#000;font-family:'Liberation Sans', sans-serif">5233396</div>
<div class="t" style="left:332.00px;top:829.81px;width:140px;line-height:30px;font-size:15.4px;text-align:center;color:#000;font-family:'Liberation Sans', sans-serif">445263</div>
<div class="t" style="left:474.00px;top:830.06px;width:162px;line-height:30px;font-size:17px;text-align:center;color:#000;font-family:'Liberation Sans', sans-serif">338208</div>
<div class="t" style="left:638.00px;top:830.06px;width:205px;line-height:30px;font-size:17px;text-align:center;color:#000;font-family:'Liberation Sans', sans-serif">383853</div>
<div class="t" style="left:55.00px;top:854.52px;width:120px;line-height:30px;font-size:14.8px;text-align:center;color:#000;font-family:'Liberation Sans', sans-serif">26-28</div>
<div class="t" style="left:177.00px;top:854.46px;width:153px;line-height:30px;font-size:17px;text-align:center;color:#000;font-family:'Liberation Sans', sans-serif">4305045</div>
<div class="t" style="left:332.00px;top:854.21px;width:140px;line-height:30px;font-size:15.4px;text-align:center;color:#000;font-family:'Liberation Sans', sans-serif">259437</div>
<div class="t" style="left:474.00px;top:854.46px;width:162px;line-height:30px;font-size:17px;text-align:center;color:#000;font-family:'Liberation Sans', sans-serif">191005</div>
<div class="t" style="left:638.00px;top:854.46px;width:205px;line-height:30px;font-size:17px;text-align:center;color:#000;font-family:'Liberation Sans', sans-serif">277763</div>
<div class="t" style="left:55.00px;top:879.22px;width:120px;line-height:30px;font-size:14.8px;text-align:center;color:#000;font-family:'Liberation Sans', sans-serif">29-35</div>
<div class="t" style="left:177.00px;top:879.16px;width:153px;line-height:30px;font-size:17px;text-align:center;color:#000;font-family:'Liberation Sans', sans-serif">7223994</div>
<div class="t" style="left:332.00px;top:878.91px;width:140px;line-height:30px;font-size:15.4px;text-align:center;color:#000;font-family:'Liberation Sans', sans-serif">325082</div>
<div class="t" style="left:474.00px;top:879.16px;width:162px;line-height:30px;font-size:17px;text-align:center;color:#000;font-family:'Liberation Sans', sans-serif">237237</div>
<div class="t" style="left:638.00px;top:879.16px;width:205px;line-height:30px;font-size:17px;text-align:center;color:#000;font-family:'Liberation Sans', sans-serif">488700</div>
<div class="t" style="left:55.00px;top:903.43px;width:120px;line-height:30px;font-size:15.7px;text-align:center;color:#000;font-family:'Liberation Sans', sans-serif">More than 35</div>
<div class="t" style="left:177.00px;top:903.68px;width:153px;line-height:30px;font-size:17px;text-align:center;color:#000;font-family:'Liberation Sans', sans-serif">10392179</div>
<div class="t" style="left:332.00px;top:903.44px;width:140px;line-height:30px;font-size:15.4px;text-align:center;color:#000;font-family:'Liberation Sans', sans-serif">311190</div>
<div class="t" style="left:474.00px;top:903.68px;width:162px;line-height:30px;font-size:17px;text-align:center;color:#000;font-family:'Liberation Sans', sans-serif">226468</div>
<div class="t" style="left:638.00px;top:903.68px;width:205px;line-height:30px;font-size:17px;text-align:center;color:#000;font-family:'Liberation Sans', sans-serif">484557</div>
<div class="t" style="left:55.00px;top:926.02px;width:120px;line-height:30px;font-size:15.3px;text-align:center;color:#375623;font-family:'Liberation Sans', sans-serif;font-weight:700">Total</div>
<div class="t" style="left:177.00px;top:926.06px;width:153px;line-height:30px;font-size:15.2px;text-align:center;color:#375623;font-family:'Liberation Sans', sans-serif">28937059</div>
<div class="t" style="left:332.00px;top:926.06px;width:140px;line-height:30px;font-size:15.2px;text-align:center;color:#375623;font-family:'Liberation Sans', sans-serif">1595763</div>
<div class="t" style="left:474.00px;top:926.06px;width:162px;line-height:30px;font-size:15.2px;text-align:center;color:#375623;font-family:'Liberation Sans', sans-serif">1184266</div>
<div class="t" style="left:638.00px;top:926.06px;width:205px;line-height:30px;font-size:15.2px;text-align:center;color:#375623;font-family:'Liberation Sans', sans-serif">1739328</div>
<div style="left:868px;top:597px;width:732px;height:19px;background:#DDEBF7"></div>
<div style="left:868px;top:931px;width:732px;height:18px;background:#C6E0B4"></div>
<div style="left:866px;top:595px;width:736px;height:2px;background:#000"></div>
<div style="left:866px;top:616px;width:736px;height:2px;background:#000"></div>
<div style="left:866px;top:761px;width:736px;height:2px;background:#000"></div>
<div style="left:866px;top:782px;width:736px;height:2px;background:#000"></div>
<div style="left:866px;top:807px;width:736px;height:2px;background:#000"></div>
<div style="left:866px;top:831px;width:736px;height:2px;background:#000"></div>
<div style="left:866px;top:855px;width:736px;height:2px;background:#000"></div>
<div style="left:866px;top:880px;width:736px;height:2px;background:#000"></div>
<div style="left:866px;top:904px;width:736px;height:2px;background:#000"></div>
<div style="left:866px;top:929px;width:736px;height:2px;background:#000"></div>
<div style="left:866px;top:949px;width:736px;height:2px;background:#000"></div>
<div style="left:866px;top:595px;width:2px;height:356px;background:#000"></div>
<div style="left:1600px;top:595px;width:2px;height:356px;background:#000"></div>
<div style="left:985px;top:616px;width:2px;height:335px;background:#000"></div>
<div style="left:1125px;top:616px;width:2px;height:335px;background:#000"></div>
<div style="left:1277px;top:616px;width:2px;height:335px;background:#000"></div>
<div style="left:1427px;top:616px;width:2px;height:335px;background:#000"></div>
<div class="t" style="left:866.00px;top:591.20px;width:736px;line-height:30px;font-size:15.0px;text-align:center;color:#000;font-family:'Liberation Sans', sans-serif;font-weight:700">December 2017</div>
<div class="t" style="left:870.50px;top:674.67px;width:117px;line-height:30px;font-size:14.8px;text-align:left;color:#000;font-family:'Liberation Sans', sans-serif;font-weight:700">Age</div>
<div class="t" style="left:987.00px;top:629.87px;width:138px;line-height:30px;font-size:14.8px;text-align:center;color:#000;font-family:'Liberation Sans', sans-serif;font-weight:700">Out of existing</div>
<div class="t" style="left:987.00px;top:652.27px;width:138px;line-height:30px;font-size:14.8px;text-align:center;color:#000;font-family:'Liberation Sans', sans-serif;font-weight:700">stock, the number</div>
<div class="t" style="left:987.00px;top:674.67px;width:138px;line-height:30px;font-size:14.8px;text-align:center;color:#000;font-family:'Liberation Sans', sans-serif;font-weight:700">of employees who</div>
<div class="t" style="left:987.00px;top:697.07px;width:138px;line-height:30px;font-size:14.8px;text-align:center;color:#000;font-family:'Liberation Sans', sans-serif;font-weight:700">paid contribution</div>
<div class="t" style="left:987.00px;top:719.47px;width:138px;line-height:30px;font-size:14.8px;text-align:center;color:#000;font-family:'Liberation Sans', sans-serif;font-weight:700">during the month</div>
<div class="t" style="left:1127.00px;top:641.07px;width:150px;line-height:30px;font-size:14.8px;text-align:center;color:#000;font-family:'Liberation Sans', sans-serif;font-weight:700">Number of</div>
<div class="t" style="left:1127.00px;top:663.47px;width:150px;line-height:30px;font-size:14.8px;text-align:center;color:#000;font-family:'Liberation Sans', sans-serif;font-weight:700">employees</div>
<div class="t" style="left:1127.00px;top:685.87px;width:150px;line-height:30px;font-size:14.8px;text-align:center;color:#000;font-family:'Liberation Sans', sans-serif;font-weight:700">registered during</div>
<div class="t" style="left:1127.00px;top:708.27px;width:150px;line-height:30px;font-size:14.8px;text-align:center;color:#000;font-family:'Liberation Sans', sans-serif;font-weight:700">the month</div>
<div class="t" style="left:1283.00px;top:618.67px;width:148px;line-height:30px;font-size:14.8px;text-align:center;color:#000;font-family:'Liberation Sans', sans-serif;font-weight:700">Out of Col (B),</div>
<div class="t" style="left:1279.00px;top:641.07px;width:148px;line-height:30px;font-size:14.8px;text-align:center;color:#000;font-family:'Liberation Sans', sans-serif;font-weight:700">registered</div>
<div class="t" style="left:1279.00px;top:663.47px;width:148px;line-height:30px;font-size:14.8px;text-align:center;color:#000;font-family:'Liberation Sans', sans-serif;font-weight:700">employees as in Col</div>
<div class="t" style="left:1279.00px;top:685.87px;width:148px;line-height:30px;font-size:14.8px;text-align:center;color:#000;font-family:'Liberation Sans', sans-serif;font-weight:700">( C), who paid the</div>
<div class="t" style="left:1279.00px;top:708.27px;width:148px;line-height:30px;font-size:14.8px;text-align:center;color:#000;font-family:'Liberation Sans', sans-serif;font-weight:700">contribution during</div>
<div class="t" style="left:1279.00px;top:730.67px;width:148px;line-height:30px;font-size:14.8px;text-align:center;color:#000;font-family:'Liberation Sans', sans-serif;font-weight:700">the month</div>
<div class="t" style="left:1429.00px;top:618.67px;width:171px;line-height:30px;font-size:14.8px;text-align:center;color:#000;font-family:'Liberation Sans', sans-serif;font-weight:700">Out of existing stock,</div>
<div class="t" style="left:1429.00px;top:641.07px;width:171px;line-height:30px;font-size:14.8px;text-align:center;color:#000;font-family:'Liberation Sans', sans-serif;font-weight:700">the number of</div>
<div class="t" style="left:1429.00px;top:663.47px;width:171px;line-height:30px;font-size:14.8px;text-align:center;color:#000;font-family:'Liberation Sans', sans-serif;font-weight:700">employees  who have</div>
<div class="t" style="left:1429.00px;top:685.87px;width:171px;line-height:30px;font-size:14.8px;text-align:center;color:#000;font-family:'Liberation Sans', sans-serif;font-weight:700">ceased paying</div>
<div class="t" style="left:1429.00px;top:708.27px;width:171px;line-height:30px;font-size:14.8px;text-align:center;color:#000;font-family:'Liberation Sans', sans-serif;font-weight:700">contribution during the</div>
<div class="t" style="left:1429.00px;top:730.67px;width:171px;line-height:30px;font-size:14.8px;text-align:center;color:#000;font-family:'Liberation Sans', sans-serif;font-weight:700">month</div>
<div class="t" style="left:868.00px;top:757.64px;width:117px;line-height:30px;font-size:14.6px;text-align:center;color:#000;font-family:'Liberation Sans', sans-serif;font-weight:700">(A)</div>
<div class="t" style="left:987.00px;top:757.64px;width:138px;line-height:30px;font-size:14.6px;text-align:center;color:#000;font-family:'Liberation Sans', sans-serif;font-weight:700">(B)</div>
<div class="t" style="left:1127.00px;top:757.64px;width:150px;line-height:30px;font-size:14.6px;text-align:center;color:#000;font-family:'Liberation Sans', sans-serif;font-weight:700">(C )</div>
<div class="t" style="left:1279.00px;top:757.64px;width:148px;line-height:30px;font-size:14.6px;text-align:center;color:#000;font-family:'Liberation Sans', sans-serif;font-weight:700">(D)</div>
<div class="t" style="left:1429.00px;top:757.64px;width:171px;line-height:30px;font-size:14.6px;text-align:center;color:#000;font-family:'Liberation Sans', sans-serif;font-weight:700">(E)</div>
<div class="t" style="left:869.50px;top:781.42px;width:117px;line-height:30px;font-size:14.8px;text-align:left;color:#000;font-family:'Liberation Sans', sans-serif">Less than 18</div>
<div class="t" style="left:987.00px;top:781.36px;width:138px;line-height:30px;font-size:17px;text-align:center;color:#000;font-family:'Liberation Sans', sans-serif">18334</div>
<div class="t" style="left:1127.00px;top:781.11px;width:150px;line-height:30px;font-size:15.4px;text-align:center;color:#000;font-family:'Liberation Sans', sans-serif">2294</div>
<div class="t" style="left:1279.00px;top:781.36px;width:148px;line-height:30px;font-size:17px;text-align:center;color:#000;font-family:'Liberation Sans', sans-serif">1670</div>
<div class="t" style="left:1429.00px;top:781.36px;width:171px;line-height:30px;font-size:17px;text-align:center;color:#000;font-family:'Liberation Sans', sans-serif">553</div>
<div class="t" style="left:869.50px;top:806.02px;width:117px;line-height:30px;font-size:14.8px;text-align:left;color:#000;font-family:'Liberation Sans', sans-serif">18-21</div>
<div class="t" style="left:987.00px;top:805.96px;width:138px;line-height:30px;font-size:17px;text-align:center;color:#000;font-family:'Liberation Sans', sans-serif">1845848</div>
<div class="t" style="left:1127.00px;top:805.71px;width:150px;line-height:30px;font-size:15.4px;text-align:center;color:#000;font-family:'Liberation Sans', sans-serif">265554</div>
<div class="t" style="left:1279.00px;top:805.96px;width:148px;line-height:30px;font-size:17px;text-align:center;color:#000;font-family:'Liberation Sans', sans-serif">201808</div>
<div class="t" style="left:1429.00px;top:805.96px;width:171px;line-height:30px;font-size:17px;text-align:center;color:#000;font-family:'Liberation Sans', sans-serif">101894</div>
<div class="t" style="left:869.50px;top:830.12px;width:117px;line-height:30px;font-size:14.8px;text-align:left;color:#000;font-family:'Liberation Sans', sans-serif">22-25</div>
<div class="t" style="left:987.00px;top:830.06px;width:138px;line-height:30px;font-size:17px;text-align:center;color:#000;font-family:'Liberation Sans', sans-serif">5340673</div>
<div class="t" style="left:1127.00px;top:829.81px;width:150px;line-height:30px;font-size:15.4px;text-align:center;color:#000;font-family:'Liberation Sans', sans-serif">464179</div>
<div class="t" style="left:1279.00px;top:830.06px;width:148px;line-height:30px;font-size:17px;text-align:center;color:#000;font-family:'Liberation Sans', sans-serif">359544</div>
<div class="t" style="left:1429.00px;top:830.06px;width:171px;line-height:30px;font-size:17px;text-align:center;color:#000;font-family:'Liberation Sans', sans-serif">366181</div>
<div class="t" style="left:869.50px;top:854.52px;width:117px;line-height:30px;font-size:14.8px;text-align:left;color:#000;font-family:'Liberation Sans', sans-serif">26-28</div>
<div class="t" style="left:987.00px;top:854.46px;width:138px;line-height:30px;font-size:17px;text-align:center;color:#000;font-family:'Liberation Sans', sans-serif">4374946</div>
<div class="t" style="left:1127.00px;top:854.21px;width:150px;line-height:30px;font-size:15.4px;text-align:center;color:#000;font-family:'Liberation Sans', sans-serif">270551</div>
<div class="t" style="left:1279.00px;top:854.46px;width:148px;line-height:30px;font-size:17px;text-align:center;color:#000;font-family:'Liberation Sans', sans-serif">203552</div>
<div class="t" style="left:1429.00px;top:854.46px;width:171px;line-height:30px;font-size:17px;text-align:center;color:#000;font-family:'Liberation Sans', sans-serif">249603</div>
<div class="t" style="left:869.50px;top:879.22px;width:117px;line-height:30px;font-size:14.8px;text-align:left;color:#000;font-family:'Liberation Sans', sans-serif">29-35</div>
<div class="t" style="left:987.00px;top:879.16px;width:138px;line-height:30px;font-size:17px;text-align:center;color:#000;font-family:'Liberation Sans', sans-serif">7284111</div>
<div class="t" style="left:1127.00px;top:878.91px;width:150px;line-height:30px;font-size:15.4px;text-align:center;color:#000;font-family:'Liberation Sans', sans-serif">332881</div>
<div class="t" style="left:1279.00px;top:879.16px;width:148px;line-height:30px;font-size:17px;text-align:center;color:#000;font-family:'Liberation Sans', sans-serif">247590</div>
<div class="t" style="left:1429.00px;top:879.16px;width:171px;line-height:30px;font-size:17px;text-align:center;color:#000;font-family:'Liberation Sans', sans-serif">411932</div>
<div class="t" style="left:869.50px;top:903.43px;width:117px;line-height:30px;font-size:15.7px;text-align:left;color:#000;font-family:'Liberation Sans', sans-serif">More than 35</div>
<div class="t" style="left:987.00px;top:903.68px;width:138px;line-height:30px;font-size:17px;text-align:center;color:#000;font-family:'Liberation Sans', sans-serif">10383230</div>
<div class="t" style="left:1127.00px;top:903.44px;width:150px;line-height:30px;font-size:15.4px;text-align:center;color:#000;font-family:'Liberation Sans', sans-serif">311922</div>
<div class="t" style="left:1279.00px;top:903.68px;width:148px;line-height:30px;font-size:17px;text-align:center;color:#000;font-family:'Liberation Sans', sans-serif">230104</div>
<div class="t" style="left:1429.00px;top:903.68px;width:171px;line-height:30px;font-size:17px;text-align:center;color:#000;font-family:'Liberation Sans', sans-serif">417512</div>
<div class="t" style="left:869.50px;top:926.02px;width:117px;line-height:30px;font-size:15.3px;text-align:left;color:#375623;font-family:'Liberation Sans', sans-serif;font-weight:700">Total</div>
<div class="t" style="left:987.00px;top:925.99px;width:138px;line-height:30px;font-size:15.4px;text-align:center;color:#375623;font-family:'Liberation Sans', sans-serif;font-weight:700">29247142</div>
<div class="t" style="left:1127.00px;top:925.99px;width:150px;line-height:30px;font-size:15.4px;text-align:center;color:#375623;font-family:'Liberation Sans', sans-serif;font-weight:700">1647381</div>
<div class="t" style="left:1279.00px;top:925.99px;width:148px;line-height:30px;font-size:15.4px;text-align:center;color:#375623;font-family:'Liberation Sans', sans-serif;font-weight:700">1244268</div>
<div class="t" style="left:1429.00px;top:925.99px;width:171px;line-height:30px;font-size:15.4px;text-align:center;color:#375623;font-family:'Liberation Sans', sans-serif;font-weight:700">1547675</div>
<div class="t" style="left:1293.30px;top:158.43px;width:200px;line-height:30px;font-size:15.2px;text-align:left;color:#000;font-family:'Liberation Sans', sans-serif;font-weight:700;letter-spacing:0.49px">Date:20/02/2019</div>
<div class="t" style="left:395.20px;top:185.41px;width:900px;line-height:30px;font-size:15.56px;text-align:left;color:#000;font-family:'Liberation Sans', sans-serif;font-weight:700">PROVISIONAL ESTIMATE OF PAYROLL IN AGE BUCKETS AS PER ESIC RECORDS (IN NUMBERS)- AS ON 20.02.2019</div>
<div style="left:396px;top:207px;width:865px;height:2px;background:#000"></div>
<div class="t" style="left:621.40px;top:77.93px;width:900px;line-height:30px;font-size:17.1px;text-align:left;color:#14101e;font-family:'Liberation Serif', serif;font-weight:700;letter-spacing:0.846px;-webkit-text-stroke:0.35px #14101e;transform:scaleX(1.18);transform-origin:left">EMPLOYEES’ STATE INSURANCE CORPORATION</div>
<div class="t" style="left:646.70px;top:99.04px;width:900px;line-height:30px;font-size:13.8px;text-align:left;color:#14101e;font-family:'Liberation Serif', serif;font-weight:700;letter-spacing:0.755px;-webkit-text-stroke:0.35px #14101e;transform:scaleX(1.2);transform-origin:left">PANCHDEEP BHAWAN, CIG ROAD, NEW DELHI-110002</div>
<div class="t" style="left:603.60px;top:117.97px;width:900px;line-height:30px;font-size:14.0px;text-align:left;color:#14101e;font-family:'Liberation Serif', serif;font-weight:700;letter-spacing:0.91px;-webkit-text-stroke:0.35px #14101e;transform:scaleX(1.25);transform-origin:left">Ph. 011-23701356/57 email: ac_icthq@esic.in, ac-icthq@esic.nic.in</div>
</div></body></html>
